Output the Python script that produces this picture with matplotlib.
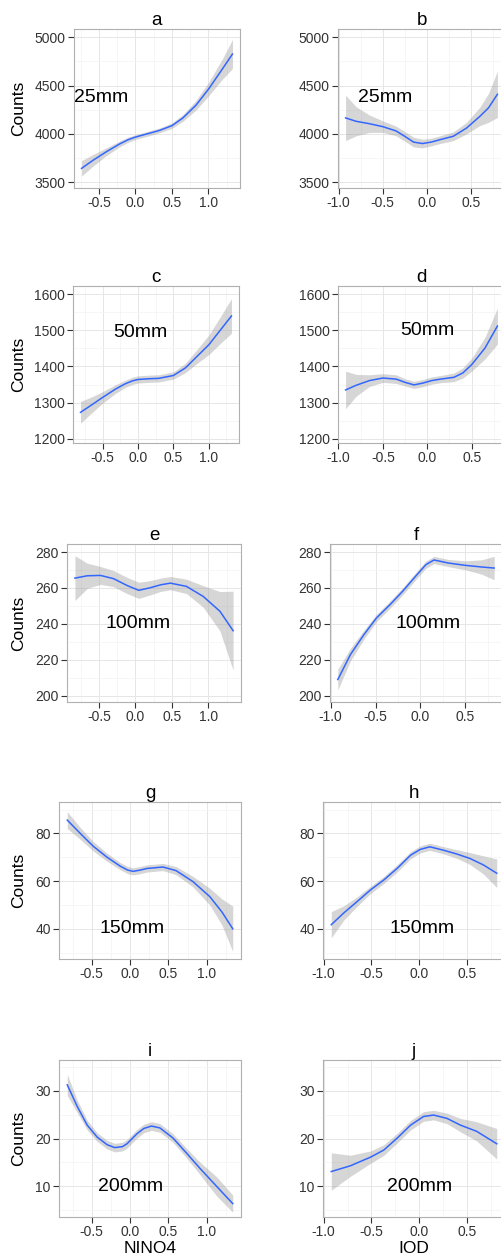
import matplotlib
matplotlib.use("Agg")
import matplotlib.pyplot as plt
import numpy as np
from matplotlib.ticker import MultipleLocator, FormatStrFormatter

plt.rcParams['font.family'] = ['Liberation Sans', 'DejaVu Sans']
plt.rcParams['axes.unicode_minus'] = False

# loess fits of counts against the climate indices, one panel per threshold
# NINO4 column
a_x = [-0.74, -0.58, -0.4, -0.22, -0.1, 0.0, 0.15, 0.33, 0.5, 0.65, 0.83, 1.0, 1.19, 1.33]
a_fit = [3643, 3728, 3815, 3895, 3940, 3967, 3998, 4036, 4085, 4165, 4297, 4461, 4669, 4826]
a_se = [80, 60, 40, 30, 27, 25, 25, 25, 28, 35, 50, 70, 105, 150]

c_x = [-0.81, -0.65, -0.5, -0.32, -0.18, -0.08, 0.0, 0.15, 0.29, 0.5, 0.67, 0.85, 1.0, 1.18, 1.32]
c_fit = [1273, 1294, 1314, 1337, 1352, 1360, 1364, 1366, 1367, 1375, 1396, 1431, 1460, 1505, 1540]
c_se = [30, 22, 16, 12, 10, 10, 10, 10, 10, 10, 13, 20, 27, 38, 48]

e_x = [-0.83, -0.66, -0.48, -0.3, -0.11, 0.045, 0.2, 0.35, 0.48, 0.7, 0.93, 1.16, 1.34]
e_fit = [265.5, 266.8, 267.0, 265.2, 261.3, 258.7, 260.1, 261.8, 262.7, 260.9, 255.3, 247.0, 236.2]
e_se = [12.5, 7, 5, 4.5, 4.5, 4.5, 4, 3.7, 3.7, 4, 6, 11, 22]

g_x = [-0.82, -0.65, -0.48, -0.3, -0.13, -0.03, 0.04, 0.13, 0.22, 0.43, 0.6, 0.82, 1.04, 1.2, 1.34]
g_fit = [85.6, 80.0, 74.6, 70.0, 66.3, 64.6, 64.1, 64.6, 65.3, 65.9, 64.4, 59.8, 53.5, 47.0, 40.0]
g_se = [3.5, 2.5, 2.0, 1.7, 1.5, 1.5, 1.5, 1.5, 1.5, 1.5, 1.7, 2.2, 3.5, 5.5, 9.5]

i_x = [-0.82, -0.69, -0.56, -0.43, -0.3, -0.2, -0.1, -0.04, 0.09, 0.18, 0.28, 0.39, 0.56, 0.74, 0.91, 1.13, 1.34]
i_fit = [31.2, 26.7, 22.8, 20.3, 18.7, 18.1, 18.3, 18.9, 21.0, 22.1, 22.6, 22.2, 20.1, 16.9, 13.8, 10.0, 6.4]
i_se = [2.2, 1.3, 1.0, 0.9, 0.9, 0.9, 0.9, 0.9, 0.9, 0.9, 0.9, 0.9, 0.9, 1.0, 1.3, 2.0, 1.8]

# IOD column
b_x = [-0.92, -0.8, -0.65, -0.5, -0.35, -0.25, -0.15, -0.05, 0.05, 0.15, 0.3, 0.45, 0.6, 0.7, 0.8]
b_fit = [4165, 4130, 4105, 4075, 4031, 3975, 3915, 3900, 3915, 3940, 3975, 4060, 4180, 4270, 4410]
b_se = [235, 150, 90, 60, 50, 50, 50, 45, 40, 40, 45, 60, 95, 150, 240]

d_x = [-0.92, -0.8, -0.65, -0.5, -0.35, -0.25, -0.15, -0.05, 0.05, 0.15, 0.3, 0.4, 0.5, 0.65, 0.79]
d_fit = [1335, 1348, 1361, 1368, 1365, 1356, 1349, 1354, 1361, 1365, 1370, 1382, 1405, 1451, 1512]
d_se = [52, 30, 16, 12, 12, 10, 10, 10, 10, 10, 12, 14, 18, 30, 50]

f_x = [-0.92, -0.78, -0.63, -0.49, -0.34, -0.2, -0.05, 0.06, 0.15, 0.31, 0.5, 0.68, 0.82]
f_fit = [209.0, 222.9, 234.0, 243.3, 250.7, 258.1, 266.8, 273.0, 275.6, 273.9, 272.6, 271.7, 271.1]
f_se = [5.8, 3.5, 2.5, 2, 2, 2, 2, 2, 2, 2, 2.5, 4, 6.5]

h_x = [-0.92, -0.79, -0.65, -0.51, -0.37, -0.23, -0.09, 0.01, 0.11, 0.25, 0.39, 0.53, 0.67, 0.81]
h_fit = [41.7, 46.6, 51.4, 56.3, 60.5, 65.4, 70.9, 73.3, 74.4, 73.0, 71.4, 69.5, 66.8, 63.3]
h_se = [5.5, 3.0, 2.0, 1.5, 1.5, 1.5, 1.5, 1.5, 1.5, 1.5, 1.8, 2.5, 3.8, 6.0]

j_x = [-0.92, -0.72, -0.51, -0.37, -0.23, -0.09, 0.045, 0.15, 0.29, 0.43, 0.6, 0.81]
j_fit = [13.1, 14.3, 16.1, 17.6, 20.1, 22.8, 24.6, 24.9, 24.2, 22.8, 21.5, 18.9]
j_se = [3.9, 2.2, 1.3, 1.1, 1.0, 1.0, 1.0, 1.0, 1.1, 1.4, 2.0, 3.2]

thresholds = ['25mm', '50mm', '100mm', '150mm', '200mm']
letters = ['a', 'b', 'c', 'd', 'e', 'f', 'g', 'h', 'i', 'j']

# where the threshold label sits in each panel (data coords)
label_xy = [(-0.47, 4380), (-0.47, 4380), (0.03, 1495), (0.0, 1500), (0.03, 240),
            (0.08, 240), (0.03, 40), (0.03, 40), (0.0, 10), (0.0, 10)]

row_ylim = [(3440, 5085), (1188, 1623), (196.5, 284.5), (27.3, 93.2), (3.6, 36.4)]
row_major = [500, 100, 20, 20, 10]

# panel boxes in pixels: left, right, top, bottom
boxes = [(74, 240, 29, 188), (338, 505, 29, 188),
         (73, 239, 286, 443), (338, 505, 286, 443),
         (67, 241, 544, 702), (330, 502, 544, 702),
         (59, 241, 802, 959), (323, 505, 802, 959),
         (59, 241, 1060, 1217), (323, 505, 1060, 1217)]

series = [(a_x, a_fit, a_se), (b_x, b_fit, b_se), (c_x, c_fit, c_se), (d_x, d_fit, d_se),
          (e_x, e_fit, e_se), (f_x, f_fit, f_se), (g_x, g_fit, g_se), (h_x, h_fit, h_se),
          (i_x, i_fit, i_se), (j_x, j_fit, j_se)]

W, H = 501, 1260
fig = plt.figure(figsize=(W / 100, H / 100), dpi=100)
fig.patch.set_facecolor('white')

for k, (x, fit, se) in enumerate(series):
    row, col = k // 2, k % 2
    left, right, top, bottom = boxes[k]
    ax = fig.add_axes([left / W, 1 - bottom / H, (right - left) / W, (bottom - top) / H])

    x = np.array(x)
    fit = np.array(fit, dtype=float)
    se = np.array(se, dtype=float)
    ax.fill_between(x, fit - se, fit + se, color='#999999', alpha=0.4, lw=0, zorder=2)
    ax.plot(x, fit, color='#3366FF', lw=1.1, zorder=3, solid_joinstyle='round')

    ax.set_ylim(*row_ylim[row])
    ax.margins(x=0.05)
    ax.yaxis.set_major_locator(MultipleLocator(row_major[row]))
    ax.yaxis.set_minor_locator(MultipleLocator(row_major[row] / 2))
    ax.xaxis.set_major_locator(MultipleLocator(0.5))
    ax.xaxis.set_minor_locator(MultipleLocator(0.25))
    ax.xaxis.set_major_formatter(FormatStrFormatter('%.1f'))

    ax.set_axisbelow(True)
    ax.grid(which='major', color='#E6E6E6', lw=0.7)
    ax.grid(which='minor', color='#F3F3F3', lw=0.5)
    for sp in ax.spines.values():
        sp.set_color('#B0B0B0')
        sp.set_linewidth(0.8)

    ax.tick_params(which='major', direction='out', length=4.5, width=0.8, color='#333333',
                   labelsize=10, labelcolor='#333333', pad=1.5, top=False, right=False)
    ax.tick_params(which='minor', length=0)

    ax.set_title(letters[k], fontsize=13.5, pad=3)
    tx, ty = label_xy[k]
    ax.text(tx, ty, thresholds[row], fontsize=14, ha='center', va='center', zorder=4)

    if col == 0:
        ax.set_ylabel('Counts', fontsize=12.5)
        ax.yaxis.set_label_coords((26 - left) / (right - left), 0.5)
    if row == 4:
        ax.set_xlabel('NINO4' if col == 0 else 'IOD', fontsize=12.5, labelpad=1)

fig.savefig('out.png', dpi=100)
